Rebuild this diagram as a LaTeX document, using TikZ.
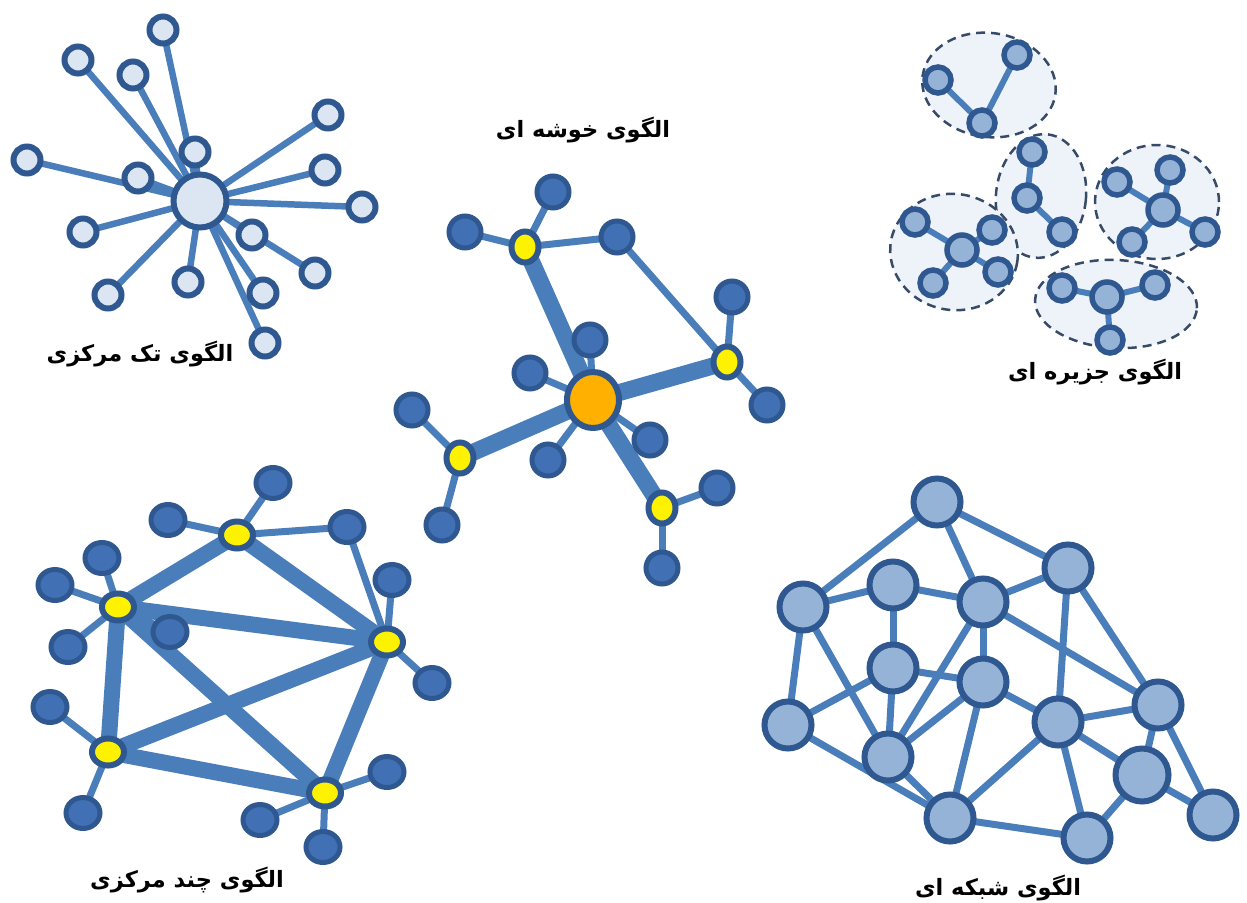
\documentclass[tikz,border=0pt]{standalone}
\usepackage{fontspec}
\newfontfamily\arabicfont[Script=Arabic]{DejaVu Sans}
\TeXXeTstate=1
\usetikzlibrary{shapes.geometric}
\definecolor{edgec}{RGB}{74,126,187}
\definecolor{nodeb}{RGB}{47,88,145}
\definecolor{satfill}{RGB}{220,230,242}
\definecolor{bluefill}{RGB}{66,112,180}
\definecolor{lightfill}{RGB}{149,179,215}
\definecolor{islandfill}{RGB}{238,243,249}
\definecolor{islandline}{RGB}{55,75,105}
\definecolor{orangefill}{RGB}{255,176,0}
\pgfdeclarelayer{paper}\pgfdeclarelayer{islands}\pgfdeclarelayer{edges}\pgfsetlayers{paper,islands,edges,main}
\begin{document}
\begin{tikzpicture}[x=1pt,y=-1pt,
 sat/.style={circle,draw=nodeb,line width=6pt,fill=satfill,minimum size=27pt,inner sep=0pt},
 hubA/.style={sat,minimum size=53pt},
 bnode/.style={ellipse,draw=nodeb,line width=5pt,fill=bluefill,minimum width=32pt,minimum height=32pt,inner sep=0pt},
 ynodeA/.style={ellipse,draw=nodeb,line width=6pt,fill=yellow,minimum width=27pt,minimum height=31pt,inner sep=0pt},
 ynodeB/.style={ellipse,draw=nodeb,line width=6pt,fill=yellow,minimum width=32pt,minimum height=27pt,inner sep=0pt},
 onode/.style={ellipse,draw=nodeb,line width=6pt,fill=orangefill,minimum width=52pt,minimum height=56pt,inner sep=0pt},
 inode/.style={circle,draw=nodeb,line width=5.5pt,fill=lightfill,minimum size=26pt,inner sep=0pt},
 ihub/.style={inode,minimum size=30pt},
 island/.style={ellipse,draw=islandline,dashed,dash pattern=on 9pt off 6pt,line width=2.5pt,fill=islandfill,inner sep=0pt},
 nnode/.style={circle,draw=nodeb,line width=6pt,fill=lightfill,minimum size=47pt,inner sep=0pt},
 edgeA/.style={draw=edgec,line width=6.5pt},
 edgeT/.style={draw=edgec,line width=7pt},
 edgeK/.style={draw=edgec,line width=17pt},
 edgeI/.style={draw=edgec,line width=6pt},
 lbl/.style={font=\arabicfont\bfseries\fontsize{22.5}{26}\selectfont,inner sep=0pt,text=black}
]
\useasboundingbox (0,0) rectangle (1247,902);
\begin{pgfonlayer}{paper}
\fill[white] (0,0) rectangle (1247,902);
\end{pgfonlayer}

% ---------------- Panel 1: single center
\node[hubA] (c1) at (200,201) {};
\foreach \n/\x/\y in {s1/163/30,s2/78/60,s3/133/75,s4/328/115,s5/27/160,s6/195/152,s7/138/178,s8/325/170,s9/362/207,s10/83/232,s11/252/235,s12/108/295,s13/188/282,s14/315/273,s15/263/293,s16/265/343}
  \node[sat] (\n) at (\x,\y) {};
\begin{pgfonlayer}{edges}
\foreach \n in {s1,s2,s3,s4,s5,s6,s7,s8,s9,s10,s11,s12,s13,s14,s15,s16}
  \draw[edgeA] (c1.center) -- (\n.center);
\end{pgfonlayer}
\node[lbl] (t1) at (140,354) {\beginR الگوی تک مرکزی\endR};

% ---------------- Panel 2: cluster
\node[lbl] (t2) at (583,130) {\beginR الگوی خوشه ای\endR};
\node[onode] (o2) at (593,400) {};
\node[ynodeA] (y21) at (525,247) {};
\node[ynodeA] (y22) at (727,362) {};
\node[ynodeA] (y23) at (460,458) {};
\node[ynodeA] (y24) at (662,508) {};
\foreach \n/\x/\y in {b1/553/192,b2/465/232,b3/617/237,b4/732/297,b5/590/340,b6/530/373,b7/767/405,b8/412/410,b9/650/440,b10/548/460,b11/717/488,b12/442/525,b13/662/568}
  \node[bnode] (\n) at (\x,\y) {};
\begin{pgfonlayer}{edges}
\foreach \n in {y21,y22,y23,y24} \draw[edgeK] (o2.center) -- (\n.center);
\foreach \a/\b in {y21/b1,y21/b2,y21/b3,b3/y22,y22/b4,y22/b7,y23/b8,y23/b12,y24/b11,y24/b13,o2/b5,o2/b6,o2/b9,o2/b10}
  \draw[edgeT] (\a.center) -- (\b.center);
\end{pgfonlayer}

% ---------------- Panel 3: islands
\begin{pgfonlayer}{islands}
\node[island,minimum width=134pt,minimum height=104pt,rotate=-8] (e1) at (989,85) {};
\node[island,minimum width=90pt,minimum height=124pt,rotate=-6] (e2) at (1041,196) {};
\node[island,minimum width=124pt,minimum height=114pt] (e3) at (1157,202) {};
\node[island,minimum width=128pt,minimum height=116pt,rotate=-10] (e4) at (954,252) {};
\node[island,minimum width=162pt,minimum height=88pt,rotate=-3] (e5) at (1116,304) {};
\end{pgfonlayer}
\node[inode] (i11) at (938,80) {};
\node[inode] (i12) at (1017,55) {};
\node[inode] (i13) at (982,123) {};
\node[inode] (i21) at (1032,152) {};
\node[inode] (i22) at (1027,198) {};
\node[inode] (i23) at (1062,232) {};
\node[inode] (i31) at (1117,182) {};
\node[inode] (i32) at (1170,170) {};
\node[ihub]  (i33) at (1163,210) {};
\node[inode] (i34) at (1205,232) {};
\node[inode] (i35) at (1132,242) {};
\node[inode] (i41) at (915,222) {};
\node[inode] (i42) at (992,230) {};
\node[ihub]  (i43) at (962,250) {};
\node[inode] (i44) at (998,272) {};
\node[inode] (i45) at (933,283) {};
\node[inode] (i51) at (1062,288) {};
\node[ihub]  (i52) at (1107,297) {};
\node[inode] (i53) at (1155,285) {};
\node[inode] (i54) at (1110,340) {};
\begin{pgfonlayer}{edges}
\foreach \a/\b in {i11/i13,i13/i12,i21/i22,i22/i23,i33/i31,i33/i32,i33/i34,i33/i35,i43/i41,i43/i42,i43/i44,i43/i45,i52/i51,i52/i53,i52/i54}
  \draw[edgeI] (\a.center) -- (\b.center);
\end{pgfonlayer}
\node[lbl] (t3) at (1095,372) {\beginR الگوی جزیره ای\endR};

% ---------------- Panel 4: multi-center
\node[ynodeB] (y41) at (237,535) {};
\node[ynodeB] (y42) at (118,607) {};
\node[ynodeB] (y43) at (387,642) {};
\node[ynodeB] (y44) at (108,752) {};
\node[ynodeB] (y45) at (325,793) {};
\foreach \n/\x/\y in {m1/273/483,m2/168/520,m3/347/527,m4/102/558,m5/55/585,m6/170/632,m7/68/647,m8/392/580,m9/432/683,m10/50/707,m11/83/813,m12/260/820,m13/387/772,m14/323/847}
  \node[bnode,minimum width=34pt,minimum height=31pt] (\n) at (\x,\y) {};
\begin{pgfonlayer}{edges}
\foreach \a/\b in {y42/y41,y41/y43,y42/y43,y42/y44,y42/y45,y44/y43,y44/y45,y43/y45}
  \draw[edgeK,line width=16pt] (\a.center) -- (\b.center);
\foreach \a/\b in {y41/m1,y41/m2,y41/m3,m3/y43,y42/m4,y42/m5,y42/m6,y42/m7,y43/m8,y43/m9,y44/m10,y44/m11,y45/m12,y45/m13,y45/m14}
  \draw[edgeT] (\a.center) -- (\b.center);
\end{pgfonlayer}
\node[lbl] (t4) at (187,880) {\beginR الگوی چند مرکزی\endR};

% ---------------- Panel 5: network
\node[nnode] (nA) at (937,502) {};
\node[nnode] (nB) at (1068,568) {};
\node[nnode] (nC) at (803,607) {};
\node[nnode] (nD) at (893,585) {};
\node[nnode] (nE) at (983,602) {};
\node[nnode] (nF) at (893,668) {};
\node[nnode] (nG) at (983,682) {};
\node[nnode] (nH) at (788,725) {};
\node[nnode] (nI) at (1058,722) {};
\node[nnode] (nJ) at (1158,705) {};
\node[nnode] (nK) at (888,757) {};
\node[nnode,minimum size=53pt] (nL) at (1142,775) {};
\node[nnode] (nM) at (950,818) {};
\node[nnode] (nN) at (1213,815) {};
\node[nnode] (nO) at (1087,838) {};
\begin{pgfonlayer}{edges}
\foreach \a/\b in {nA/nC,nA/nE,nA/nB,nC/nD,nD/nE,nE/nB,nC/nH,nC/nK,nD/nF,nF/nH,nF/nG,nF/nK,nE/nK,nE/nG,nE/nJ,nB/nI,nB/nJ,nG/nK,nG/nM,nG/nI,nI/nJ,nI/nM,nI/nO,nI/nL,nJ/nL,nJ/nN,nL/nN,nL/nO,nH/nM,nK/nM,nM/nO}
  \draw[edgeT] (\a.center) -- (\b.center);
\end{pgfonlayer}
\node[lbl] (t5) at (998,888) {\beginR الگوی شبکه ای\endR};
\end{tikzpicture}
\end{document}
